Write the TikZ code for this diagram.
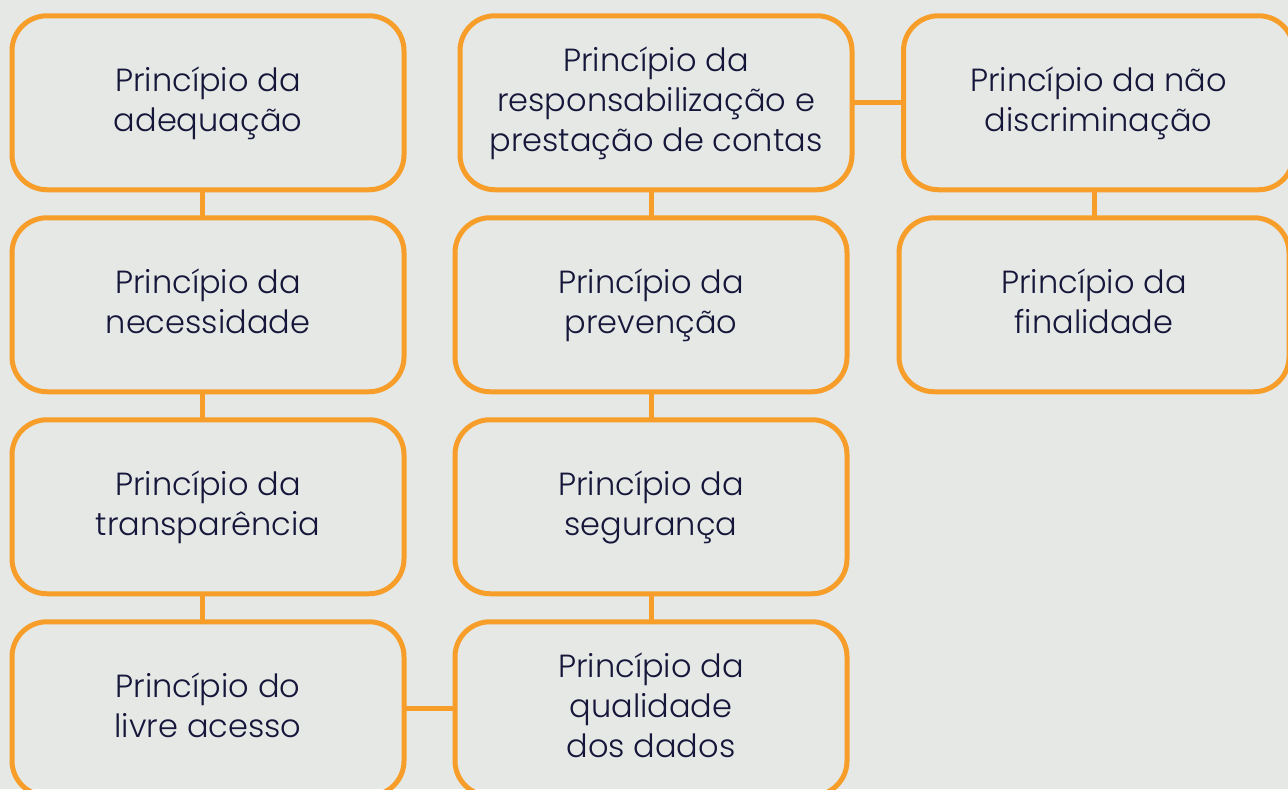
\documentclass[tikz,border=0pt]{standalone}
\usepackage{fontspec}
\setmainfont{Poppins}[UprightFont=* Light]
\usetikzlibrary{positioning}
\definecolor{fundo}{RGB}{230,232,229}
\definecolor{laranja}{RGB}{247,158,42}
\definecolor{tinta}{RGB}{22,22,58}

\begin{document}
\begin{tikzpicture}[x=0.5pt,y=-0.5pt,
  caixa/.style={draw=laranja, line width=2.5pt, rounded corners=17.5pt, outer sep=0pt, inner sep=0pt,
    minimum width=196pt, minimum height=87pt, align=center, text=tinta, text depth=4pt,
    font=\fontsize{16}{20}\selectfont},
  liga/.style={draw=laranja, line width=2.5pt}]

  \fill[fundo] (0,0) rectangle (1288,789);
  \clip (0,0) rectangle (1288,789);

  \node[caixa] (adequacao) at (208,102.75) {Princípio da\\adequação};
  \node[caixa, below=14pt of adequacao] (necessidade) {Princípio da\\necessidade};
  \node[caixa, below=14pt of necessidade] (transparencia) {Princípio da\\transparência};
  \node[caixa, below=14pt of transparencia] (livre) {Princípio do\\livre acesso};

  \node[caixa] (responsa) at (656,102.75) {Princípio da\\responsabilização e\\prestação de contas};
  \node[caixa, below=14pt of responsa, xshift=-2.5pt] (prevencao) {Princípio da\\prevenção};
  \node[caixa, below=14pt of prevencao] (seguranca) {Princípio da\\segurança};
  \node[caixa, below=14pt of seguranca] (qualidade) {Princípio da\\qualidade\\dos dados};

  \node[caixa, minimum width=195pt] (naodiscr) at (1098.5,102.75) {Princípio da não\\discriminação};
  \node[caixa, minimum width=195pt, below=14pt of naodiscr, xshift=-2.25pt] (finalidade) {Princípio da\\finalidade};

  \draw[liga] ([xshift=-2.75pt]adequacao.south) -- ([xshift=-2.75pt]necessidade.north);
  \draw[liga] ([xshift=-2.75pt]necessidade.south) -- ([xshift=-2.75pt]transparencia.north);
  \draw[liga] ([xshift=-2.75pt]transparencia.south) -- ([xshift=-2.75pt]livre.north);

  \draw[liga] (prevencao.north) -- (prevencao.north |- responsa.south);
  \draw[liga] (prevencao.south) -- (seguranca.north);
  \draw[liga] (seguranca.south) -- (qualidade.north);

  \draw[liga] (finalidade.north) -- (finalidade.north |- naodiscr.south);
  \draw[liga] (responsa.east) -- (naodiscr.west);
  \draw[liga] (livre.east) -- (livre.east -| qualidade.west);

\end{tikzpicture}
\end{document}
